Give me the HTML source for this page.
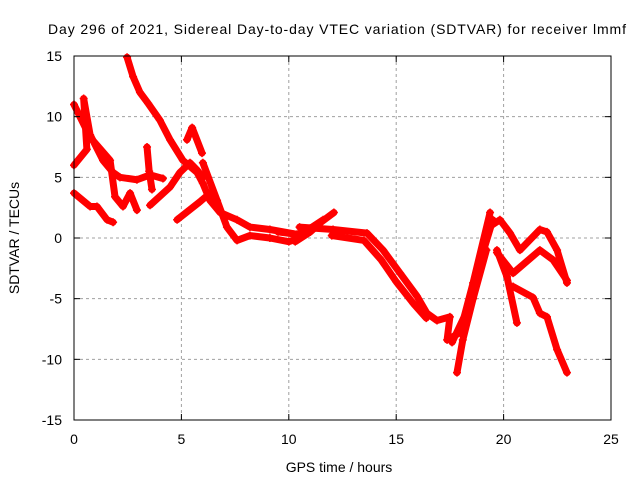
<!DOCTYPE html>
<html><head><meta charset="utf-8"><style>
body{margin:0;background:#fff}
svg text{font-family:"Liberation Sans",sans-serif;font-size:14px;fill:#000}
</style></head><body>
<svg id="c" width="640" height="480">
<text x="48" y="34" textLength="578" lengthAdjust="spacing">Day 296 of 2021, Sidereal Day-to-day VTEC variation (SDTVAR) for receiver lmmf</text>
<text x="339" y="472" text-anchor="middle">GPS time / hours</text>
<text transform="translate(19,238) rotate(-90)" text-anchor="middle">SDTVAR / TECUs</text>
<g id="grid"></g><g id="data"></g><g id="axes"></g>
</svg>
<script>
const xTicks=[0,5,10,15,20,25];
const yTicks=[-15,-10,-5,0,5,10,15];
const traceA=[[0,11],[0.75,8.3],[1.68,6.4],[1.91,3.4],[2.28,2.6],[2.61,3.7],[2.93,2.3]];
const traceB=[[0,6],[0.6,7.3],[0.45,11.5],[0.75,8.5],[1.35,6.4],[1.82,5.4],[2.14,5],[2.93,4.8],[3.54,5.2],[4.14,4.9]];
const traceC=[[0,3.7],[0.75,2.6],[1.07,2.6],[1.54,1.5],[1.82,1.3]];
const traceD=[[2.47,14.9],[2.75,13.3],[3.07,12],[3.45,11.1],[4.0,9.7],[4.47,8.1],[5.07,6.4],[5.73,5.4],[6.0,4.5],[6.33,3.1],[6.8,2.1],[7.59,1.5],[8.19,0.9],[9.12,0.7],[10.38,0.3]];
const traceE=[[3.4,7.5],[3.5,5.5],[3.63,4]];
const traceF=[[3.54,2.7],[4.47,4.2],[4.93,5.4],[5.4,6.2],[5.73,5.6],[6.0,5]];
const traceG=[[5.26,8.1],[5.5,9.1],[5.96,7]];
const traceH=[[4.8,1.5],[5.87,3],[6.33,3.7]];
const traceI=[[6.0,6.2],[6.66,3.1],[7.12,0.9],[7.59,-0.2],[8.19,0.2],[9.12,0],[10.0,-0.3],[10.5,0]];
const traceJ=[[10.3,-0.3],[11,0.5],[11.5,1.3],[12.1,2.1]];
const traceK=[[9.5,0.5],[10.4,0.3],[11,0.8],[11.6,1.5]];
const traceL=[[10.5,0.9],[12.06,0.7],[13.64,0.4],[14.39,-1],[15.18,-2.9],[15.97,-4.8],[16.43,-6.2],[16.9,-6.8],[17.5,-6.5],[17.37,-8.4],[17.97,-7.8],[18.58,-3.7],[19.37,2.1]];
const traceL2=[[12.0,0.2],[13.5,-0.2],[14.3,-1.8],[15.0,-3.6],[15.8,-5.4],[16.4,-6.6]];
const traceL3=[[17.6,-8.6],[18.3,-6],[18.9,-2],[19.5,1.5]];
const traceM=[[17.83,-11.1],[18.1,-8.4],[18.58,-5],[19.2,-1]];
const traceN=[[19.4,1],[19.83,1.5],[20.3,0.4],[20.76,-1],[21.69,0.7],[22.02,0.5],[22.49,-1],[22.95,-3.7]];
const traceO=[[19.69,-1.2],[20.44,-2.9],[21.69,-1],[22.3,-1.8],[22.95,-3.5]];
const traceP=[[19.69,-1],[20.16,-3.2],[20.62,-7]];
const traceQ=[[20.44,-4],[21.37,-4.9],[21.69,-6.2],[22.02,-6.5],[22.49,-9.2],[22.95,-11.1]];
const traces=[traceA,traceB,traceC,traceD,traceE,traceF,traceG,traceH,traceI,traceJ,traceK,traceL,traceL2,traceL3,traceM,traceN,traceO,traceP,traceQ];
const X0=74,X1=611,Y0=420,Y1=56;
const sx=v=>X0+(v-0)/25*(X1-X0);
const sy=v=>Y0-(v+15)/30*(Y0-Y1);
const NS='http://www.w3.org/2000/svg';
function mk(t,a,p){const e=document.createElementNS(NS,t);for(const k in a)e.setAttribute(k,a[k]);p.appendChild(e);return e;}
const grid=document.getElementById('grid'),axes=document.getElementById('axes'),data=document.getElementById('data');
xTicks.forEach(t=>{const x=sx(t);
 if(t>0&&t<25){const g=mk('line',{x1:x,x2:x,y1:Y1,y2:Y0,stroke:'#a0a0a0','stroke-dasharray':'3,3'},grid);
 
 }
 mk('line',{x1:x,x2:x,y1:Y0,y2:Y0-6,stroke:'#000'},axes);mk('line',{x1:x,x2:x,y1:Y1,y2:Y1+6,stroke:'#000'},axes);
 const l=mk('text',{x:x,y:Y0+24,'text-anchor':'middle'},axes);l.textContent=t;
 
 });
yTicks.forEach(t=>{const y=sy(t);
 if(t>-15&&t<15){const g=mk('line',{x1:X0,x2:X1,y1:y,y2:y,stroke:'#a0a0a0','stroke-dasharray':'3,3'},grid);
 
 }
 mk('line',{x1:X0,x2:X0+6,y1:y,y2:y,stroke:'#000'},axes);mk('line',{x1:X1,x2:X1-6,y1:y,y2:y,stroke:'#000'},axes);
 const l=mk('text',{x:X0-12,y:y+5,'text-anchor':'end'},axes);l.textContent=t;
 
 });
const fr=mk('rect',{x:X0,y:Y1,width:X1-X0,height:Y0-Y1,fill:'none',stroke:'#000'},axes);


traces.forEach(tr=>{
 const pl=mk('polyline',{points:tr.map(p=>sx(p[0])+','+sy(p[1])).join(' '),fill:'none',stroke:'#f00','stroke-width':7,'stroke-linejoin':'round','stroke-linecap':'round'},data);
 
 
 tr.forEach(p=>{const x=sx(p[0]),y=sy(p[1]);
  const m=mk('path',{d:`M${x-4},${y}H${x+4}M${x},${y-4}V${y+4}`,stroke:'#f00','stroke-width':1.5},data);
  
  });
});
</script>
</body></html>
